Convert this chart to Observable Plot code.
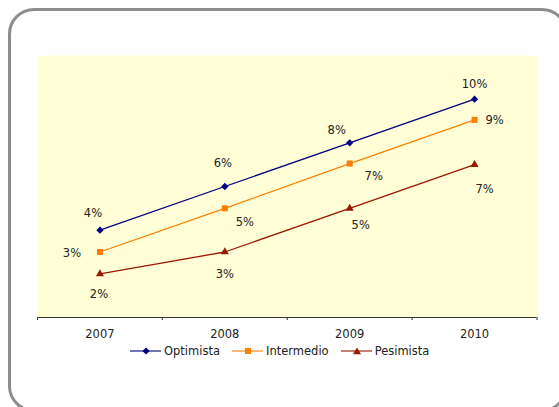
<!DOCTYPE html>
<html>
<head>
<meta charset="utf-8">
<script src="https://cdn.jsdelivr.net/npm/d3@7"></script>
<script src="https://cdn.jsdelivr.net/npm/@observablehq/plot@0.6"></script>
<style>
  html, body { margin: 0; padding: 0; background: #fff; overflow: hidden; }
  #wrap { position: relative; width: 559px; height: 407px; overflow: hidden; font-family: "DejaVu Sans", Verdana, sans-serif; }
  #border { position: absolute; left: 8px; top: 8px; width: 560px; height: 404px; box-sizing: border-box;
            border: 3px solid #8d8d8d; border-radius: 26px; }
  #chart { position: absolute; left: 0; top: 0; }
  #legend { position: absolute; left: 130px; top: 344px; display: flex; align-items: center;
            font-size: 11.5px; color: #222; white-space: nowrap; }
  .item { display: flex; align-items: center; margin-right: 12px; }
  .item svg { margin-right: 3px; }
</style>
</head>
<body>
<div id="wrap">
  <div id="border"></div>
  <div id="chart"></div>
  <div id="legend"></div>
</div>
<script>
// ---- data ----
const years = [2007, 2008, 2009, 2010];
const seriesNames = ["Optimista", "Intermedio", "Pesimista"];
const optimista = [4, 6, 8, 10];
const intermedio = [3.0, 5.0, 7.05, 9.05];
const pesimista = [2.0, 3.0, 5.0, 7.0];
const seriesValues = [optimista, intermedio, pesimista];

// ---- styling / layout ----
const colors = ["#000080", "#FF8000", "#991800"];
const diamond = {
  draw(ctx, size) {
    const h = Math.sqrt(size / 2);
    ctx.moveTo(0, -h); ctx.lineTo(h, 0); ctx.lineTo(0, h); ctx.lineTo(-h, 0); ctx.closePath();
  }
};
const symbols = [diamond, "square", "triangle"];
const radii = [2.9, 3.4, 3.0];
// label offsets (pixels) relative to each point, per series
const labelOffsets = [
  [[-7, -17], [-2, -23], [-13, -13], [0, -15]],
  [[-28, 1], [20, 14], [24, 13], [20, 0]],
  [[-1, 20], [0, 22], [11, 17], [10, 25]]
];

const rows = seriesNames.flatMap((s, si) =>
  years.map((yr, i) => ({series: s, si, i, year: yr, value: seriesValues[si][i]})));
const bounds = years.map(y => y - 0.5).concat([years[years.length - 1] + 0.5]);
const fmt = v => d3.format(".0f")(v) + "%";

const marks = [
  Plot.frame({fill: "#FFFED6", stroke: "none"}),
  Plot.axisX({ticks: bounds, tickSize: 3, tickFormat: () => "", stroke: "#333", label: null}),
  Plot.axisX({ticks: years, tickSize: 0, tickPadding: 12, tickFormat: d => String(d), fill: "#222", label: null}),
  Plot.ruleY([0], {stroke: "#333", strokeWidth: 1})
];
seriesNames.forEach((s, si) => {
  const d = rows.filter(r => r.si === si);
  marks.push(Plot.line(d, {x: "year", y: "value", stroke: colors[si], strokeWidth: 1.3}));
  marks.push(Plot.dot(d, {x: "year", y: "value", symbol: () => symbols[si], r: radii[si], fill: colors[si], stroke: "none"}));
  d.forEach(r => {
    const [dx, dy] = labelOffsets[si][r.i];
    marks.push(Plot.text([r], {x: "year", y: "value", text: r => fmt(r.value), dx, dy, fill: "#222"}));
  });
});

const chart = Plot.plot({
  width: 559, height: 407,
  marginLeft: 37, marginRight: 22.5, marginTop: 55, marginBottom: 90,
  x: {type: "linear", domain: [bounds[0], bounds[bounds.length - 1]]},
  y: {domain: [0, 12], axis: null},
  symbol: {type: "identity"},
  style: {fontFamily: "DejaVu Sans, Verdana, sans-serif", fontSize: "11.5px", background: "transparent", color: "#222"},
  marks
});
document.getElementById("chart").appendChild(chart);

// ---- legend ----
const legend = d3.select("#legend");
const symPaths = [
  "M16,2.4L19.6,6L16,9.6L12.4,6Z",
  "M13,3H19V9H13Z",
  "M16,2.5L20,9.3H12Z"
];
seriesNames.forEach((s, si) => {
  const it = legend.append("div").attr("class", "item");
  const svg = it.append("svg").attr("width", 31).attr("height", 12);
  svg.append("line").attr("x1", 0).attr("x2", 31).attr("y1", 6).attr("y2", 6)
    .attr("stroke", colors[si]).attr("stroke-width", 2).attr("stroke-opacity", 0.55);
  svg.append("path").attr("d", symPaths[si]).attr("fill", colors[si]);
  it.append("span").text(s);
});
</script>
</body>
</html>
